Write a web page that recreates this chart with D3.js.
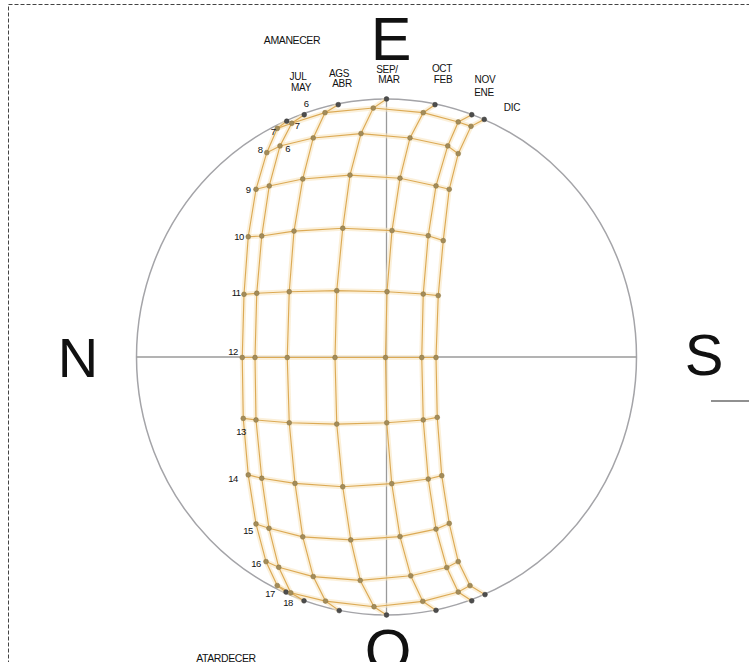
<!DOCTYPE html>
<html>
<head>
<meta charset="utf-8">
<script src="https://cdn.jsdelivr.net/npm/d3@7"></script>
<style>
  body { margin: 0; background: #fff; }
  svg { display: block; }
  text { font-family: "Liberation Sans", Arial, sans-serif; fill: #111; }
</style>
</head>
<body>
<svg id="chart" width="749" height="662"></svg>
<script>
// sun path grid
// units: percent of horizon radius, x: N(-100) .. S(+100), y: O(-100) .. E(+100)
var hours = [6, 7, 8, 9, 10, 11, 12, 13, 14, 15, 16, 17, 18];

var jun = [[-39.9, 91.4], [-43.7, 88.6], [-47.9, 79.2], [-52.2, 65.0], [-55.3, 46.6], [-57.0, 24.3], [-57.7, -0.2],
           [-57.3, -23.8], [-55.3, -45.7], [-52.2, -64.7], [-48.2, -79.3], [-43.7, -88.6], [-40.2, -91.1]];
var julMay = [[-32.9, 93.9], [-37.9, 90.6], [-42.6, 81.8], [-46.9, 66.3], [-49.9, 46.9], [-51.9, 24.7], [-52.6, -0.2],
              [-52.2, -24.4], [-49.9, -47.0], [-47.0, -66.4], [-43.1, -81.5], [-38.3, -91.4], [-33.0, -94.5]];
var agsAbr = [[-19.3, 97.8], [-24.6, 94.7], [-29.3, 84.9], [-33.5, 69.0], [-37.0, 48.8], [-38.9, 25.3], [-39.7, -0.2],
              [-38.9, -25.5], [-36.6, -49.0], [-33.5, -69.7], [-29.3, -85.1], [-24.4, -94.6], [-18.9, -98.3]];
var sepMar = [[0.0, 100.0], [-5.3, 96.5], [-10.2, 86.6], [-14.6, 70.5], [-17.5, 49.9], [-19.9, 25.7], [-20.6, -0.2],
              [-19.9, -26.0], [-17.5, -50.3], [-14.3, -70.9], [-10.5, -86.6], [-5.0, -96.8], [0.0, -100.0]];
var octFeb = [[19.4, 97.8], [14.7, 94.7], [9.4, 84.9], [5.4, 69.3], [2.2, 49.0], [0.2, 25.3], [-0.4, -0.2],
              [0.1, -25.5], [2.1, -49.1], [5.4, -69.6], [9.7, -84.8], [14.5, -94.7], [19.8, -98.2]];
var novEne = [[34.1, 93.9], [28.7, 91.1], [24.5, 81.8], [19.8, 66.3], [16.7, 47.0], [14.7, 24.4], [14.1, -0.2],
              [14.7, -24.4], [16.7, -47.3], [19.8, -66.7], [24.1, -81.6], [28.7, -91.1], [34.1, -94.5]];
var dic = [[39.1, 92.1], [33.8, 89.4], [28.7, 78.8], [25.1, 65.0], [22.7, 45.1], [20.7, 23.8], [19.8, -0.2],
           [20.3, -23.4], [22.1, -46.0], [25.1, -64.5], [28.7, -79.3], [33.4, -88.6], [39.4, -92.1]];

var paths = [jun, julMay, agsAbr, sepMar, octFeb, novEne, dic];

var monthLabels = [["JUL", "MAY"], ["AGS", "ABR"], ["SEP/", "MAR"], ["OCT", "FEB"], ["NOV", "ENE"], ["DIC"]];
var cardinals = ["E", "N", "S", "O"];

var svg = d3.select('#chart');

var x = d3.scaleLinear().domain([-100, 100]).range([136.5, 636.5]);
var y = d3.scaleLinear().domain([-100, 100]).range([615, 99]);

// dashed frame
svg.append('rect')
    .attr('x', 8.5).attr('y', 4.5)
    .attr('width', 800).attr('height', 700)
    .style('fill', 'none')
    .style('stroke', '#444')
    .style('stroke-width', 1)
    .style('stroke-dasharray', '4,2');

// horizon and axes
svg.append('ellipse')
    .attr('cx', x(0)).attr('cy', y(0))
    .attr('rx', x(100) - x(0)).attr('ry', y(0) - y(100))
    .style('fill', 'none')
    .style('stroke', '#a4a4a8')
    .style('stroke-width', 1.5);

svg.append('line')
    .attr('x1', x(-100)).attr('x2', x(100))
    .attr('y1', y(0)).attr('y2', y(0))
    .style('stroke', '#9a9a9a').style('stroke-width', 1.3);
svg.append('line')
    .attr('x1', x(0)).attr('x2', x(0))
    .attr('y1', y(100)).attr('y2', y(-100))
    .style('stroke', '#9a9a9a').style('stroke-width', 1.3);

var line = d3.line()
    .x(function(d){ return x(d[0]); })
    .y(function(d){ return y(d[1]); });

// hour lines (7h .. 17h) across the months
var hourRows = d3.range(1, hours.length - 1).map(function(i){
    return paths.map(function(p){ return p[i]; });
});

var allLines = paths.concat(hourRows);

svg.selectAll('path.glow')
    .data(allLines)
    .enter()
    .append('path')
    .attr('class', 'glow')
    .attr('d', line)
    .style('fill', 'none')
    .style('stroke', '#f9e6c2')
    .style('stroke-opacity', 0.6)
    .style('stroke-width', 5);

svg.selectAll('path.grid')
    .data(allLines)
    .enter()
    .append('path')
    .attr('class', 'grid')
    .attr('d', line)
    .style('fill', 'none')
    .style('stroke', '#dcaa55')
    .style('stroke-width', 1.15);

// dots
var dots = [];
paths.forEach(function(p){
    p.forEach(function(d, i){
        dots.push({ x: d[0], y: d[1], edge: i === 0 || i === hours.length - 1 });
    });
});

svg.selectAll('circle.dot')
    .data(dots)
    .enter()
    .append('circle')
    .attr('class', 'dot')
    .attr('cx', function(d){ return x(d.x); })
    .attr('cy', function(d){ return y(d.y); })
    .attr('r', 2.4)
    .style('fill', function(d){ return d.edge ? '#4d4d4d' : '#a38c5a'; })
    .style('stroke', function(d){ return d.edge ? '#333' : '#86703f'; })
    .style('stroke-width', 0.5);

// hour labels next to the outer curve
var hourLabelPos = [
    [306, 107], [273, 135], [260, 153], [248, 193], [239, 240], [236, 296],
    [233, 355], [241, 435], [233, 482], [248, 534], [256, 567], [270, 597], [288, 606]
];
svg.selectAll('text.hour')
    .data(hours)
    .enter()
    .append('text')
    .attr('class', 'hour')
    .attr('x', function(d, i){ return hourLabelPos[i][0]; })
    .attr('y', function(d, i){ return hourLabelPos[i][1]; })
    .attr('text-anchor', 'middle')
    .style('font-size', '9.5px')
    .style('letter-spacing', '-0.6px')
    .text(function(d){ return d; });

// extra small labels near the top-left corner of the grid
var extraLabels = [['7', 297.5, 128.5], ['6', 288, 152]];
svg.selectAll('text.extra')
    .data(extraLabels)
    .enter()
    .append('text')
    .attr('class', 'extra')
    .attr('x', function(d){ return d[1]; })
    .attr('y', function(d){ return d[2]; })
    .attr('text-anchor', 'middle')
    .style('font-size', '9.5px')
    .text(function(d){ return d[0]; });

// month labels
var monthLabelPos = [[298, 80, 301, 91], [339, 77, 342, 87], [387, 73, 389, 83],
                     [442, 72, 443, 82.5], [485, 82.5, 484, 96], [512, 111]];
monthLabels.forEach(function(lbl, i){
    lbl.forEach(function(t, j){
        svg.append('text')
            .attr('x', monthLabelPos[i][j * 2])
            .attr('y', monthLabelPos[i][j * 2 + 1])
            .attr('text-anchor', 'middle')
            .style('font-size', '10px')
            .style('letter-spacing', '-0.3px')
            .text(t);
    });
});

svg.append('text')
    .attr('x', 292).attr('y', 44)
    .attr('text-anchor', 'middle')
    .style('font-size', '10.5px')
    .style('letter-spacing', '-0.4px')
    .text('AMANECER');
svg.append('text')
    .attr('x', 226).attr('y', 662)
    .attr('text-anchor', 'middle')
    .style('font-size', '10.5px')
    .style('letter-spacing', '-0.4px')
    .text('ATARDECER');

// cardinal points
var cardinalPos = [[391, 60, 61], [78, 377, 56], [704, 375, 58], [388, 671, 60]];
svg.selectAll('text.card')
    .data(cardinals)
    .enter()
    .append('text')
    .attr('class', 'card')
    .attr('x', function(d, i){ return cardinalPos[i][0]; })
    .attr('y', function(d, i){ return cardinalPos[i][1]; })
    .attr('text-anchor', 'middle')
    .style('font-size', function(d, i){ return cardinalPos[i][2] + 'px'; })
    .text(function(d){ return d; });

// short rule at the right edge
svg.append('line')
    .attr('x1', 711).attr('x2', 749)
    .attr('y1', 401).attr('y2', 401)
    .style('stroke', '#222')
    .style('stroke-width', 1.2);
</script>
</body>
</html>
